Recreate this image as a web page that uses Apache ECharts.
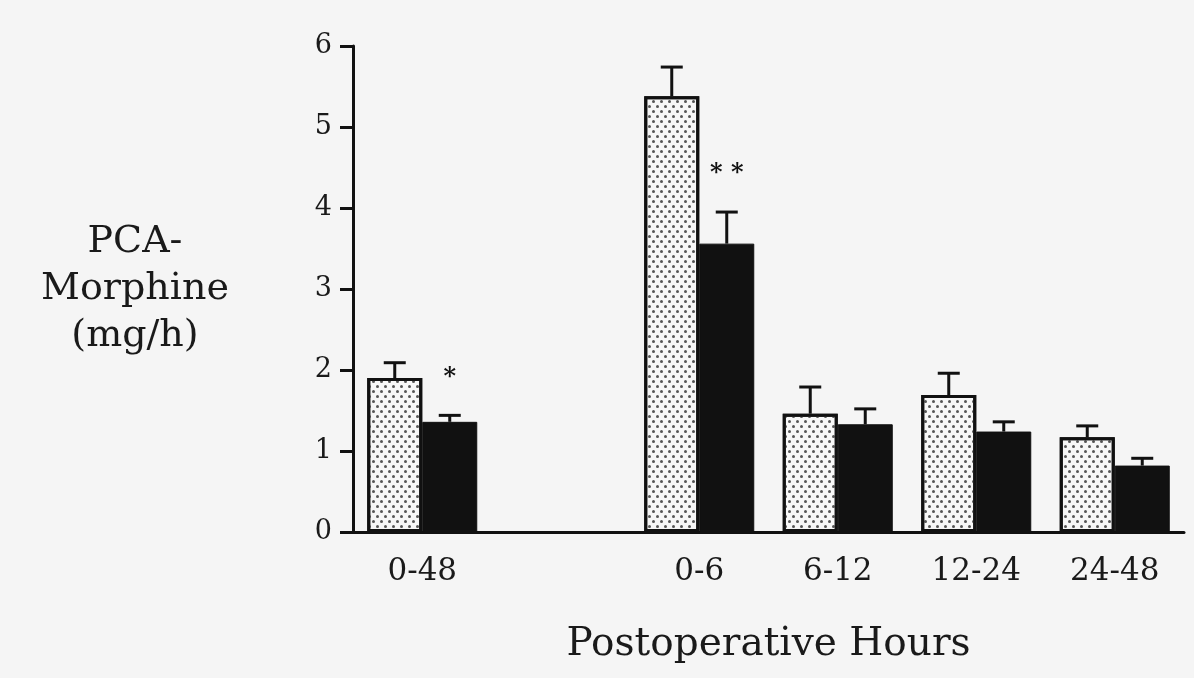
<!DOCTYPE html>
<html>
<head>
<meta charset="utf-8">
<script src="https://cdn.jsdelivr.net/npm/echarts@6/dist/echarts.min.js"></script>
<style>
  html, body { margin: 0; padding: 0; background: #f5f5f5; }
  #chart { width: 1194px; height: 678px; }
</style>
</head>
<body>
<div id="chart"></div>
<script>
// periods; the blank one is the gap between the total and the sub-periods
const categories = ['0-48', ' ', '0-6', '6-12', '12-24', '24-48'];
const groupA = [1.9, null, 5.38, 1.46, 1.69, 1.17];      // stippled bars
const groupAErr = [2.09, null, 5.74, 1.79, 1.96, 1.31];
const groupB = [1.36, null, 3.56, 1.33, 1.24, 0.82];     // black bars
const groupBErr = [1.44, null, 3.95, 1.52, 1.36, 0.91];
const signif = ['*', '', '* *', '', '', ''];             // marks above black bars
const yTicks = [0, 1, 2, 3, 4, 5, 6];

const FONT = 'DejaVu Serif';
const BAR_W = 55;

const chart = echarts.init(document.getElementById('chart'));

// error bar data: [category, bar value, error top, side(0 = left bar, 1 = right bar)]
const errData = [];
categories.forEach((c, i) => {
  if (groupA[i] != null) errData.push([c, groupA[i], groupAErr[i], 0]);
  if (groupB[i] != null) errData.push([c, groupB[i], groupBErr[i], 1]);
});
const starData = [];
categories.forEach((c, i) => {
  if (signif[i]) starData.push([c, groupBErr[i], signif[i]]);
});

function renderErr(params, api) {
  const cat = api.value(0);
  const base = api.coord([cat, api.value(1)]);
  const top = api.coord([cat, api.value(2)]);
  const x = base[0] + (api.value(3) ? 1 : -1) * BAR_W / 2;
  const st = { stroke: '#111', lineWidth: 3 };
  return {
    type: 'group',
    children: [
      { type: 'line', shape: { x1: x, y1: base[1], x2: x, y2: top[1] }, style: st },
      { type: 'line', shape: { x1: x - 11, y1: top[1], x2: x + 11, y2: top[1] }, style: st }
    ]
  };
}

function renderStar(params, api) {
  const cat = api.value(0);
  const p = api.coord([cat, api.value(1)]);
  return {
    type: 'text',
    x: p[0] + BAR_W / 2,
    y: p[1] - 38,
    style: {
      text: starData[params.dataIndex][2],
      fill: '#111',
      font: 'bold 24px ' + FONT,
      align: 'center',
      verticalAlign: 'middle'
    }
  };
}

chart.setOption({
  backgroundColor: '#f5f5f5',
  animation: false,
  grid: { left: 353, right: 10, top: 46, bottom: 146 },
  xAxis: {
    type: 'category',
    data: categories,
    axisLine: { lineStyle: { color: '#111', width: 3 } },
    axisTick: { show: false },
    axisLabel: { color: '#1a1a1a', fontFamily: FONT, fontSize: 31, margin: 24 },
    name: 'Postoperative Hours',
    nameLocation: 'middle',
    nameGap: 113,
    nameTextStyle: { color: '#1a1a1a', fontFamily: FONT, fontSize: 39, verticalAlign: 'middle' }
  },
  yAxis: {
    type: 'value',
    min: 0,
    max: 6,
    interval: 1,
    splitLine: { show: false },
    axisLine: { show: true, lineStyle: { color: '#111', width: 3 } },
    axisTick: { show: true, length: 13, lineStyle: { color: '#111', width: 3 } },
    axisLabel: {
      color: '#1a1a1a', fontFamily: FONT, fontSize: 27, margin: 21,
      formatter: v => (yTicks.includes(v) ? String(v) : '')
    },
    name: 'PCA-\nMorphine\n(mg/h)',
    nameLocation: 'middle',
    nameRotate: 0,
    nameGap: 218,
    nameTextStyle: { color: '#1a1a1a', fontFamily: FONT, fontSize: 38, lineHeight: 47, align: 'center', verticalAlign: 'middle' }
  },
  series: [
    {
      type: 'bar',
      data: groupA,
      barWidth: BAR_W,
      barGap: '0%',
      itemStyle: {
        color: '#f7f7f7',
        borderColor: '#111',
        borderWidth: 3,
        decal: {
          symbol: 'circle',
          symbolSize: 1,
          color: '#555',
          dashArrayX: [[3, 5], [0, 4, 3, 1]],
          dashArrayY: [3, 1.5]
        }
      }
    },
    {
      type: 'bar',
      data: groupB,
      barWidth: BAR_W,
      barGap: '0%',
      itemStyle: { color: '#111', borderColor: '#111', borderWidth: 1 }
    },
    {
      type: 'custom',
      renderItem: renderErr,
      data: errData,
      z: 5
    },
    {
      type: 'custom',
      renderItem: renderStar,
      data: starData,
      z: 5
    }
  ]
});
</script>
</body>
</html>
